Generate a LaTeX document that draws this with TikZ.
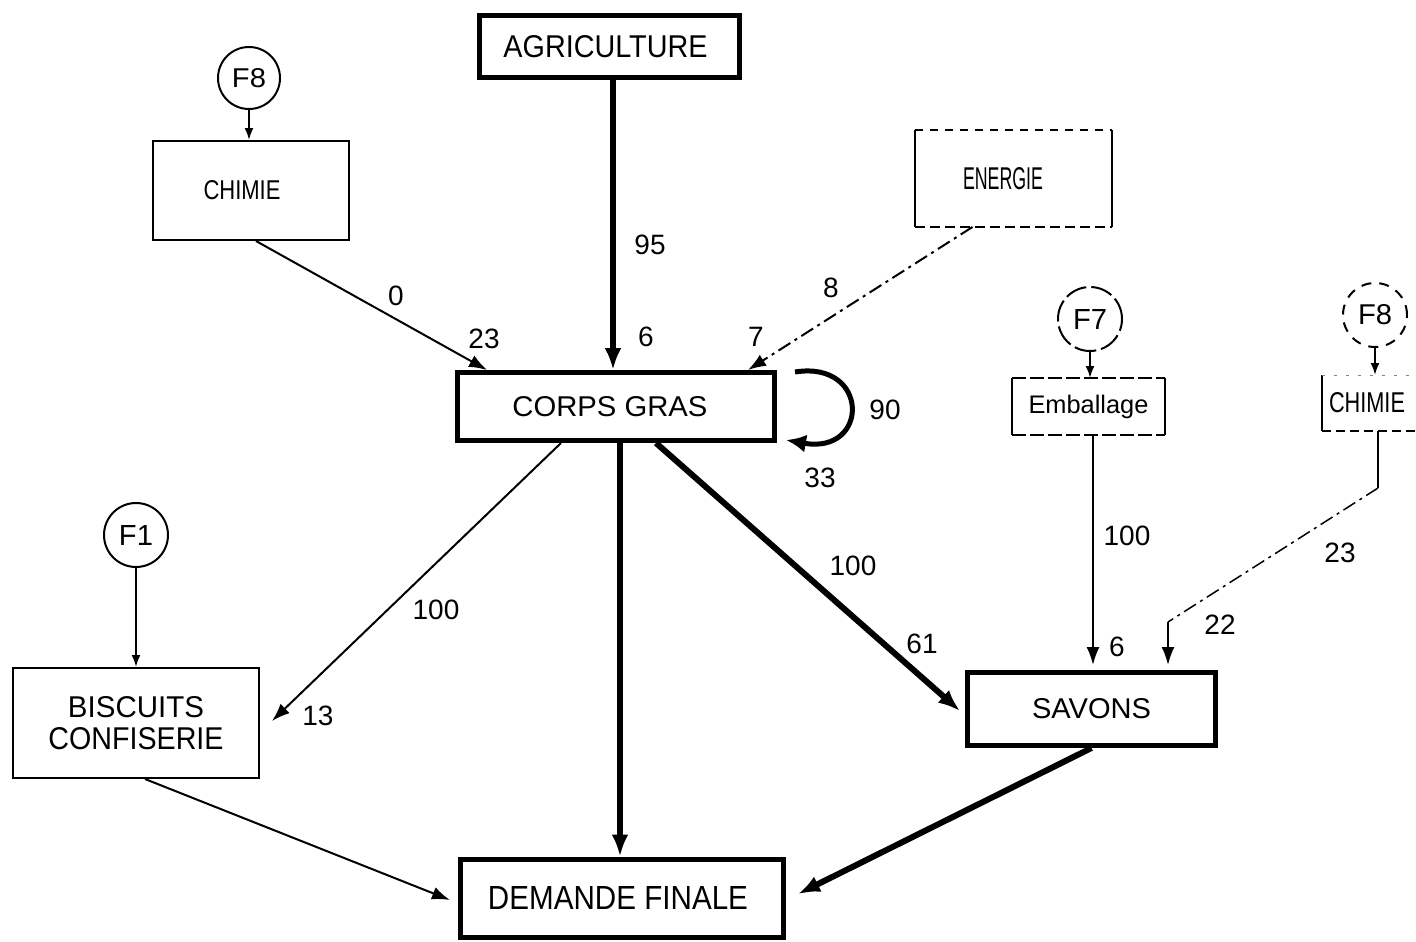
\documentclass[tikz,border=0pt]{standalone}
\usepackage{graphicx}
\usepackage{fontspec}
\setmainfont{Liberation Sans}
\usetikzlibrary{arrows.meta,calc}
\newcommand{\tb}[3]{\resizebox{#1pt}{#2pt}{#3}}
\newcommand{\padr}[1]{\rule{#1pt}{0pt}}
\begin{document}
\begin{tikzpicture}[x=1pt,y=-1pt,
 boxthin/.style={draw,line width=2pt,inner sep=0pt},
 boxthick/.style={draw,line width=5pt,inner sep=0pt},
 boxopen/.style={line width=2pt,inner sep=0pt},
 circ/.style={circle,draw,line width=2pt,minimum size=64pt,inner sep=0pt},
 lab/.style={inner sep=0pt,font=\fontsize{28}{30}\selectfont},
 thickarr/.style={line width=6pt,-{Latex[length=22pt,width=17pt]}},
 thinarr/.style={line width=2pt,-{Latex[length=18pt,width=13pt]}},
 smallarr/.style={line width=2pt,-{Latex[length=12pt,width=9pt]}},
 ddash/.style={dash pattern=on 14pt off 5pt on 3pt off 5pt}
]
\useasboundingbox (0,0) rectangle (1416,942);
\clip (0,0) rectangle (1416,942);

% main boxes
\node[boxthick,minimum width=260pt,minimum height=62pt] (agri) at (609.5,46.5) {\tb{204}{22}{AGRICULTURE}\padr{8}};
\node[boxthick,minimum width=317pt,minimum height=68pt] (corps) at (616,406.5) {\tb{195}{20}{CORPS GRAS}\padr{12}};
\node[boxthick,minimum width=248pt,minimum height=73pt] (savons) at (1091.5,709) {\tb{119}{20}{SAVONS}};
\node[boxthick,minimum width=323pt,minimum height=78pt] (demande) at (622,898) {\tb{260}{23}{DEMANDE FINALE}\padr{8}};
\node[boxthin,minimum width=196pt,minimum height=99pt] (chimie) at (251,190.5) {\tb{77}{19}{CHIMIE}\padr{18}};
\node[boxthin,minimum width=246pt,minimum height=110pt,align=center] (biscuits) at (136,723)
  {\tb{136}{21}{BISCUITS}\\[9pt]\tb{175}{22}{CONFISERIE}};

% boxes with broken edges
\node[boxopen,minimum width=195pt,minimum height=95pt] (energie) at (1013.5,178.5) {\tb{80}{22}{ENERGIE}\padr{21}};
\draw[line width=2pt] (energie.north west) -- (energie.south west);
\draw[line width=2pt] (energie.north east) -- (energie.south east);
\draw[line width=1.5pt,dash pattern=on 8pt off 7pt] (energie.north west) -- (energie.north east);
\draw[line width=1.5pt,dash pattern=on 10pt off 5pt] (energie.south west) -- (energie.south east);

\node[boxopen,minimum width=151pt,minimum height=55pt] (emballage) at (1088.5,406.5) {\resizebox{120pt}{!}{Emballage}};
\draw[line width=2pt] (emballage.north west) -- (emballage.south west);
\draw[line width=2pt] (emballage.north east) -- (emballage.south east);
\draw[line width=1.5pt,dash pattern=on 14pt off 4pt] (emballage.north west) -- (emballage.north east);
\draw[line width=1.5pt,dash pattern=on 14pt off 4pt] (emballage.south west) -- (emballage.south east);

\node[boxopen,minimum width=116pt,minimum height=54pt] (chimie2) at (1381,403) {\tb{76}{20}{CHIMIE}\padr{28}};
\draw[line width=2pt] (chimie2.north west) -- (chimie2.south west);
\draw[line width=1pt,gray,dash pattern=on 3pt off 9pt] (chimie2.north west) -- (chimie2.north east);
\draw[line width=2pt,dash pattern=on 9pt off 5pt] (chimie2.south west) -- (chimie2.south east);

% circles
\node[circ,minimum size=62pt] (f8) at (249,78) {\tb{34}{19}{F8}};
\node[circ,dash pattern=on 22pt off 5pt] (f7) at (1090,319) {\tb{34}{20}{F7}};
\node[circ,dash pattern=on 10pt off 8pt] (f8b) at (1375,315) {\tb{34}{20}{F8}};
\node[circ] (f1) at (136,535) {\tb{34}{20}{F1}};

% source arrows
\draw[smallarr] (f8.south) -- ($(chimie.north)+(-2,0)$);
\draw[smallarr] (f7.south) -- ($(emballage.north)+(1.5,0)$);
\draw[smallarr] (f8b.south) -- ($(chimie2.north)+(-6,0)$);
\draw[smallarr] (f1.south) -- (biscuits.north);

% flows into CORPS GRAS
\draw[thickarr] ($(agri.south)+(3.5,0)$) -- ($(corps.north)+(-3,0)$);
\draw[thinarr] ($(chimie.south)+(5,0)$) -- ($(corps.north west)+(32,0)$);
\draw[thinarr,ddash] ($(energie.south)+(-41,0)$) -- ($(corps.north east)+(-29,0)$);
\draw[line width=5pt,-{Latex[length=20pt,width=18pt]}] ($(corps.north east)+(18,2)$)
  .. controls +(75,-12) and +(84,15) .. ($(corps.south east)+(9,-3)$);

% flows out of CORPS GRAS
\draw[thinarr] ($(corps.south west)+(106,0)$) -- ($(biscuits.east)+(12,-2)$);
\draw[thickarr] ($(corps.south)+(4,0)$) -- ($(demande.north)+(-2,0)$);
\draw[thickarr] ($(corps.south east)+(-121,0)$) -- ($(savons.west)+(-5,2)$);

% into SAVONS
\draw[thinarr] ($(emballage.south)+(4.5,0)$) -- ($(savons.north)+(1.5,-5)$);
\coordinate (k1) at (1378,488);
\coordinate (k2) at (1168,622);
\draw[line width=2pt] ($(chimie2.south)+(-3,0)$) -- (k1);
\draw[line width=1.5pt,ddash] (k1) -- (k2);
\draw[thinarr] (k2) -- ($(savons.north)+(76.5,-5)$);

% into DEMANDE FINALE
\draw[thinarr] ($(biscuits.south)+(9,0)$) -- ($(demande.west)+(-8,2)$);
\draw[thickarr] (savons.south) -- ($(demande.east)+(12,-4)$);

% labels
\node[lab] (l95) at (650,245) {95};
\node[lab] (l6a) at (646,337) {6};
\node[lab] (l0) at (396,296) {0};
\node[lab] (l23a) at (484,339) {23};
\node[lab] (l8) at (831,288) {8};
\node[lab] (l7) at (756,337) {7};
\node[lab] (l90) at (885,410) {90};
\node[lab] (l33) at (820,478) {33};
\node[lab] (l100a) at (436,610) {100};
\node[lab] (l13) at (318,716) {13};
\node[lab] (l100b) at (853,566) {100};
\node[lab] (l61) at (922,644) {61};
\node[lab] (l100c) at (1127,536) {100};
\node[lab] (l6b) at (1117,647) {6};
\node[lab] (l23b) at (1340,553) {23};
\node[lab] (l22) at (1220,625) {22};
\end{tikzpicture}
\end{document}
